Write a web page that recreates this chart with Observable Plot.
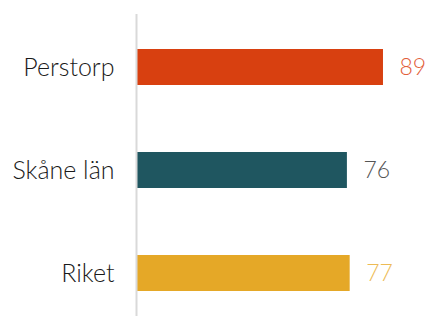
<!DOCTYPE html>
<html><head><meta charset="utf-8">
<script src="https://cdn.jsdelivr.net/npm/d3@7"></script>
<script src="https://cdn.jsdelivr.net/npm/@observablehq/plot@0.6"></script>
<style>body{margin:0;background:#fff}</style>
</head><body><div id="chart"></div>
<script>
const categories = ["Perstorp", "Skåne län", "Riket"];
const values = [89, 76, 77];
const barColors = ["#D84010", "#1F5660", "#E5A827"];
const labelColors = ["#E2603A", "#555555", "#EDBB55"];

const data = categories.map((c, i) => ({cat: c, v: values[i], fill: barColors[i], lc: labelColors[i]}));

const chart = Plot.plot({
  width: 427, height: 316,
  marginLeft: 136, marginRight: 13.5, marginTop: 14, marginBottom: 0,
  style: {fontFamily: "Lato", fontWeight: 300, background: "#fff"},
  x: {domain: [0, 100], axis: null},
  y: {domain: categories, paddingInner: 0.648, paddingOuter: 0.28, align: 0.58, label: null},
  marks: [
    Plot.barX(data, {x: "v", y: "cat", fill: "fill"}),
    Plot.text(data, {x: "v", y: "cat", text: d => String(d.v), fill: "lc", dx: 16, textAnchor: "start", fontSize: 23, fontWeight: 300}),
    Plot.ruleX([0], {stroke: "#D9D9D9", strokeWidth: 2}),
    Plot.axisY({tickSize: 0, tickPadding: 22, fontSize: 25, fill: "#1a1a1a", label: null})
  ]
});
document.getElementById("chart").appendChild(chart);
</script></body></html>
